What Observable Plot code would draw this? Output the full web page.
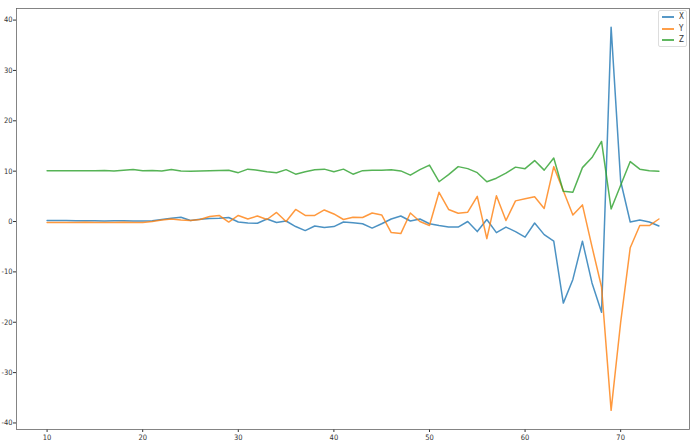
<!DOCTYPE html>
<html>
<head>
<meta charset="utf-8">
<script src="https://cdn.jsdelivr.net/npm/d3@7"></script>
<script src="https://cdn.jsdelivr.net/npm/@observablehq/plot@0.6"></script>
<style>
  html, body { margin: 0; padding: 0; background: #fff; }
  #wrap { position: relative; width: 696px; height: 447px; }
  #legend { position: absolute; left: 658px; top: 10px; width: 29px; height: 37px;
    border: 1px solid #ddd; border-radius: 2px; background: rgba(255,255,255,0.85);
    font: 8px "DejaVu Sans Condensed", "DejaVu Sans", sans-serif; color: #333; box-sizing: border-box; }
  #legend .row { position: absolute; left: 3px; height: 10px; line-height: 10px; }
  #legend .sw { position: absolute; left: 0; top: 4px; width: 12px; height: 2px; }
  #legend .lb { position: absolute; left: 17px; top: 0; }
</style>
</head>
<body>
<div id="wrap"><div id="chart"></div><div id="legend"></div></div>
<script>
const xValues = [10,11,12,13,14,15,16,17,18,19,20,21,22,23,24,25,26,27,28,29,30,31,32,33,34,35,36,37,38,39,40,41,42,43,44,45,46,47,48,49,50,51,52,53,54,55,56,57,58,59,60,61,62,63,64,65,66,67,68,69,70,71,72,73,74];

const seriesX = [0.2,0.2,0.2,0.15,0.15,0.15,0.1,0.15,0.15,0.1,0.1,
  0.15,0.4,0.65,0.85,0.2,0.45,0.6,0.65,0.8,-0.1,-0.3,-0.35,0.5,-0.2,0.1,-1.0,-1.8,-0.9,-1.2,-1.0,
  -0.1,-0.25,-0.45,-1.3,-0.45,0.5,1.1,0.1,0.5,-0.45,-0.8,-1.1,-1.1,0.0,-2.0,0.4,-2.2,-1.1,-2.0,-3.1,
  -0.3,-2.6,-3.9,-16.2,-11.5,-3.9,-12.2,-18.0,38.6,8.0,-0.1,0.3,-0.1,-0.9];

const seriesY = [-0.2,-0.2,-0.2,-0.2,-0.15,-0.2,-0.2,-0.2,-0.15,-0.2,-0.2,
  0.0,0.3,0.5,0.3,0.2,0.4,1.0,1.2,-0.1,1.2,0.5,1.1,0.4,1.8,0.0,2.4,1.2,1.2,2.3,1.5,
  0.4,0.85,0.8,1.7,1.3,-2.2,-2.4,1.7,0.0,-0.8,5.8,2.4,1.65,1.85,5.0,-3.4,5.1,0.2,4.1,4.5,
  4.9,2.6,10.9,6.1,1.3,3.3,-5.0,-13.0,-37.5,-20.0,-5.2,-0.8,-0.8,0.5];

const seriesZ = [10.1,10.1,10.1,10.1,10.1,10.1,10.15,10.05,10.2,10.35,10.1,
  10.15,10.05,10.35,10.05,10.0,10.05,10.1,10.15,10.2,9.7,10.4,10.2,9.9,9.7,10.3,9.4,9.9,10.3,10.4,9.9,
  10.4,9.4,10.1,10.2,10.2,10.3,10.05,9.2,10.3,11.2,7.9,9.3,10.9,10.5,9.7,7.9,8.6,9.6,10.8,10.5,
  12.1,10.2,12.6,6.0,5.8,10.7,12.7,15.9,2.5,7.2,11.9,10.4,10.1,10.0];

const seriesNames = ["X", "Y", "Z"];
const seriesColors = ["#1f77b4", "#ff7f0e", "#2ca02c"];
const xTicks = [10, 20, 30, 40, 50, 60, 70];
const yTicks = [-40, -30, -20, -10, 0, 10, 20, 30, 40];

const allSeries = [seriesX, seriesY, seriesZ];
const rows = [];
allSeries.forEach((vals, si) => {
  vals.forEach((v, i) => rows.push({x: xValues[i], v, s: seriesNames[si]}));
});

const chart = Plot.plot({
  width: 696,
  height: 447,
  marginLeft: 16,
  marginRight: 7,
  marginTop: 8,
  marginBottom: 18,
  style: {fontFamily: '"DejaVu Sans Condensed", "DejaVu Sans", sans-serif', fontSize: "7.5px", color: "#333", background: "#fff"},
  x: {domain: [6.8, 77.2], ticks: xTicks, tickSize: 3, tickPadding: 2, label: null, tickFormat: d => String(d)},
  y: {domain: [-41.3, 42.3], ticks: yTicks, tickSize: 3, tickPadding: 1, label: null, tickFormat: d => String(d)},
  color: {domain: seriesNames, range: seriesColors},
  marks: [
    Plot.line(rows, {x: "x", y: "v", z: "s", stroke: "s", strokeWidth: 1.5, strokeOpacity: 0.8}),
    Plot.frame({stroke: "#666", strokeWidth: 0.8})
  ]
});
document.getElementById("chart").appendChild(chart);

const legend = document.getElementById("legend");
seriesNames.forEach((name, i) => {
  const row = document.createElement("div");
  row.className = "row";
  row.style.top = (1 + i * 11.5) + "px";
  row.innerHTML = `<span class="sw" style="background:${seriesColors[i]};opacity:0.75"></span><span class="lb">${name}</span>`;
  legend.appendChild(row);
});
</script>
</body>
</html>
